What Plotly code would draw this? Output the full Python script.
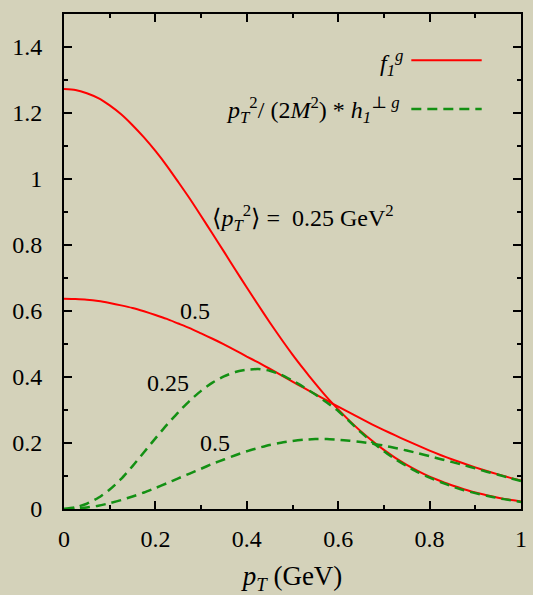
import plotly.graph_objects as go

pt = [0.0, 0.025, 0.05, 0.075, 0.1, 0.125, 0.15, 0.175, 0.2, 0.225, 0.25, 0.275, 0.3, 0.325,
      0.35, 0.375, 0.4, 0.425, 0.45, 0.475, 0.5, 0.525, 0.55, 0.575, 0.6, 0.625, 0.65, 0.675,
      0.7, 0.725, 0.75, 0.775, 0.8, 0.825, 0.85, 0.875, 0.9, 0.925, 0.95, 0.975, 1.0]
f1_025 = [1.273, 1.270, 1.260, 1.245, 1.223, 1.196, 1.163, 1.126, 1.085, 1.040, 0.991, 0.941,
          0.888, 0.834, 0.780, 0.725, 0.671, 0.618, 0.566, 0.516, 0.468, 0.423, 0.380, 0.339,
          0.302, 0.267, 0.235, 0.206, 0.179, 0.155, 0.134, 0.115, 0.098, 0.084, 0.071, 0.060,
          0.050, 0.042, 0.034, 0.028, 0.023]
f1_050 = [0.637, 0.636, 0.634, 0.630, 0.624, 0.617, 0.609, 0.599, 0.588, 0.576, 0.562, 0.548,
          0.532, 0.516, 0.499, 0.481, 0.462, 0.444, 0.425, 0.406, 0.386, 0.367, 0.348, 0.329,
          0.310, 0.292, 0.274, 0.256, 0.239, 0.223, 0.207, 0.192, 0.177, 0.163, 0.150, 0.138,
          0.126, 0.115, 0.105, 0.095, 0.086]
h1_025 = [0.0, 0.005, 0.016, 0.034, 0.059, 0.091, 0.130, 0.172, 0.214, 0.255, 0.293, 0.328,
          0.358, 0.383, 0.402, 0.415, 0.422, 0.424, 0.419, 0.407, 0.389, 0.369, 0.347, 0.323,
          0.297, 0.265, 0.232, 0.202, 0.175, 0.151, 0.130, 0.111, 0.095, 0.081, 0.068, 0.057,
          0.048, 0.040, 0.033, 0.027, 0.021]
h1_050 = [0.0, 0.001, 0.0045, 0.010, 0.0175, 0.027, 0.038, 0.050, 0.0635, 0.078, 0.093, 0.1075,
          0.122, 0.137, 0.150, 0.163, 0.175, 0.185, 0.194, 0.201, 0.206, 0.210, 0.212, 0.212,
          0.210, 0.207, 0.203, 0.198, 0.192, 0.185, 0.177, 0.169, 0.160, 0.151, 0.142, 0.133,
          0.123, 0.113, 0.104, 0.094, 0.085]

RED = "#ff0000"
GREEN = "#139013"
BG = "#d4d2ba"
FONT = "Liberation Serif, Times New Roman, DejaVu Serif, serif"

fig = go.Figure()
for y in (f1_025, f1_050):
    fig.add_trace(go.Scatter(x=pt, y=y, mode="lines", line=dict(color=RED, width=2, shape="spline", smoothing=0.6),
                             showlegend=False, hoverinfo="skip"))
for y in (h1_025, h1_050):
    fig.add_trace(go.Scatter(x=pt, y=y, mode="lines",
                             line=dict(color=GREEN, width=2.5, shape="spline", smoothing=0.6, dash="10px,6px"),
                             showlegend=False, hoverinfo="skip"))

axis_common = dict(
    showline=True, linecolor="black", linewidth=2, mirror="ticks",
    ticks="inside", ticklen=8, tickwidth=1.5, tickcolor="black",
    showgrid=False, zeroline=False,
    tickfont=dict(family=FONT, size=24, color="black"),
    minor=dict(dtick=0.1, ticks="inside", ticklen=4, tickwidth=1.5, tickcolor="black", showgrid=False),
)
fig.update_xaxes(range=[0, 1], dtick=0.2, tick0=0, ticklabelstandoff=7,
                 title=dict(text="<i>p<sub>T</sub></i> (GeV)", font=dict(family=FONT, size=27, color="black"),
                            standoff=16),
                 **axis_common)
fig.update_yaxes(range=[0, 1.5], dtick=0.2, tick0=0, ticklabelstandoff=15, **axis_common)

ann_font = dict(family=FONT, size=24, color="black")
fig.add_annotation(x=0.32, y=0.883, xref="x", yref="y", xanchor="left", yanchor="middle", showarrow=False,
                   text="\u27e8<i>p<sub>T</sub></i><sup>2</sup>\u27e9 =  0.25 GeV<sup>2</sup>", font=ann_font)
fig.add_annotation(x=0.286, y=0.60, xref="x", yref="y", showarrow=False, text="0.5", font=ann_font)
fig.add_annotation(x=0.228, y=0.383, xref="x", yref="y", showarrow=False, text="0.25", font=ann_font)
fig.add_annotation(x=0.331, y=0.20, xref="x", yref="y", showarrow=False, text="0.5", font=ann_font)

# legend (text to the left of the line sample)
fig.add_annotation(x=0.747, y=1.353, xref="x", yref="y", xanchor="right", yanchor="middle", showarrow=False,
                   text="<i>f<sub>1</sub><sup>g</sup></i>", font=ann_font)
fig.add_annotation(x=0.74, y=1.208, xref="x", yref="y", xanchor="right", yanchor="middle", showarrow=False,
                   text="<i>p<sub>T</sub></i><sup>2</sup>/ (2<i>M</i><sup>2</sup>) * <i>h<sub>1</sub></i><sup>\u22a5 <i>g</i></sup>",
                   font=ann_font)
fig.add_shape(type="line", xref="x", yref="y", x0=0.76, x1=0.914, y0=1.36, y1=1.36,
              line=dict(color=RED, width=2))
fig.add_shape(type="line", xref="x", yref="y", x0=0.76, x1=0.914, y0=1.212, y1=1.212,
              line=dict(color=GREEN, width=2.5, dash="10px,6px"))

fig.update_layout(
    width=533, height=595,
    margin=dict(l=64, r=6, t=14, b=86),
    paper_bgcolor=BG, plot_bgcolor=BG,
    font=dict(family=FONT, color="black"),
)
fig.write_html("out.html")
